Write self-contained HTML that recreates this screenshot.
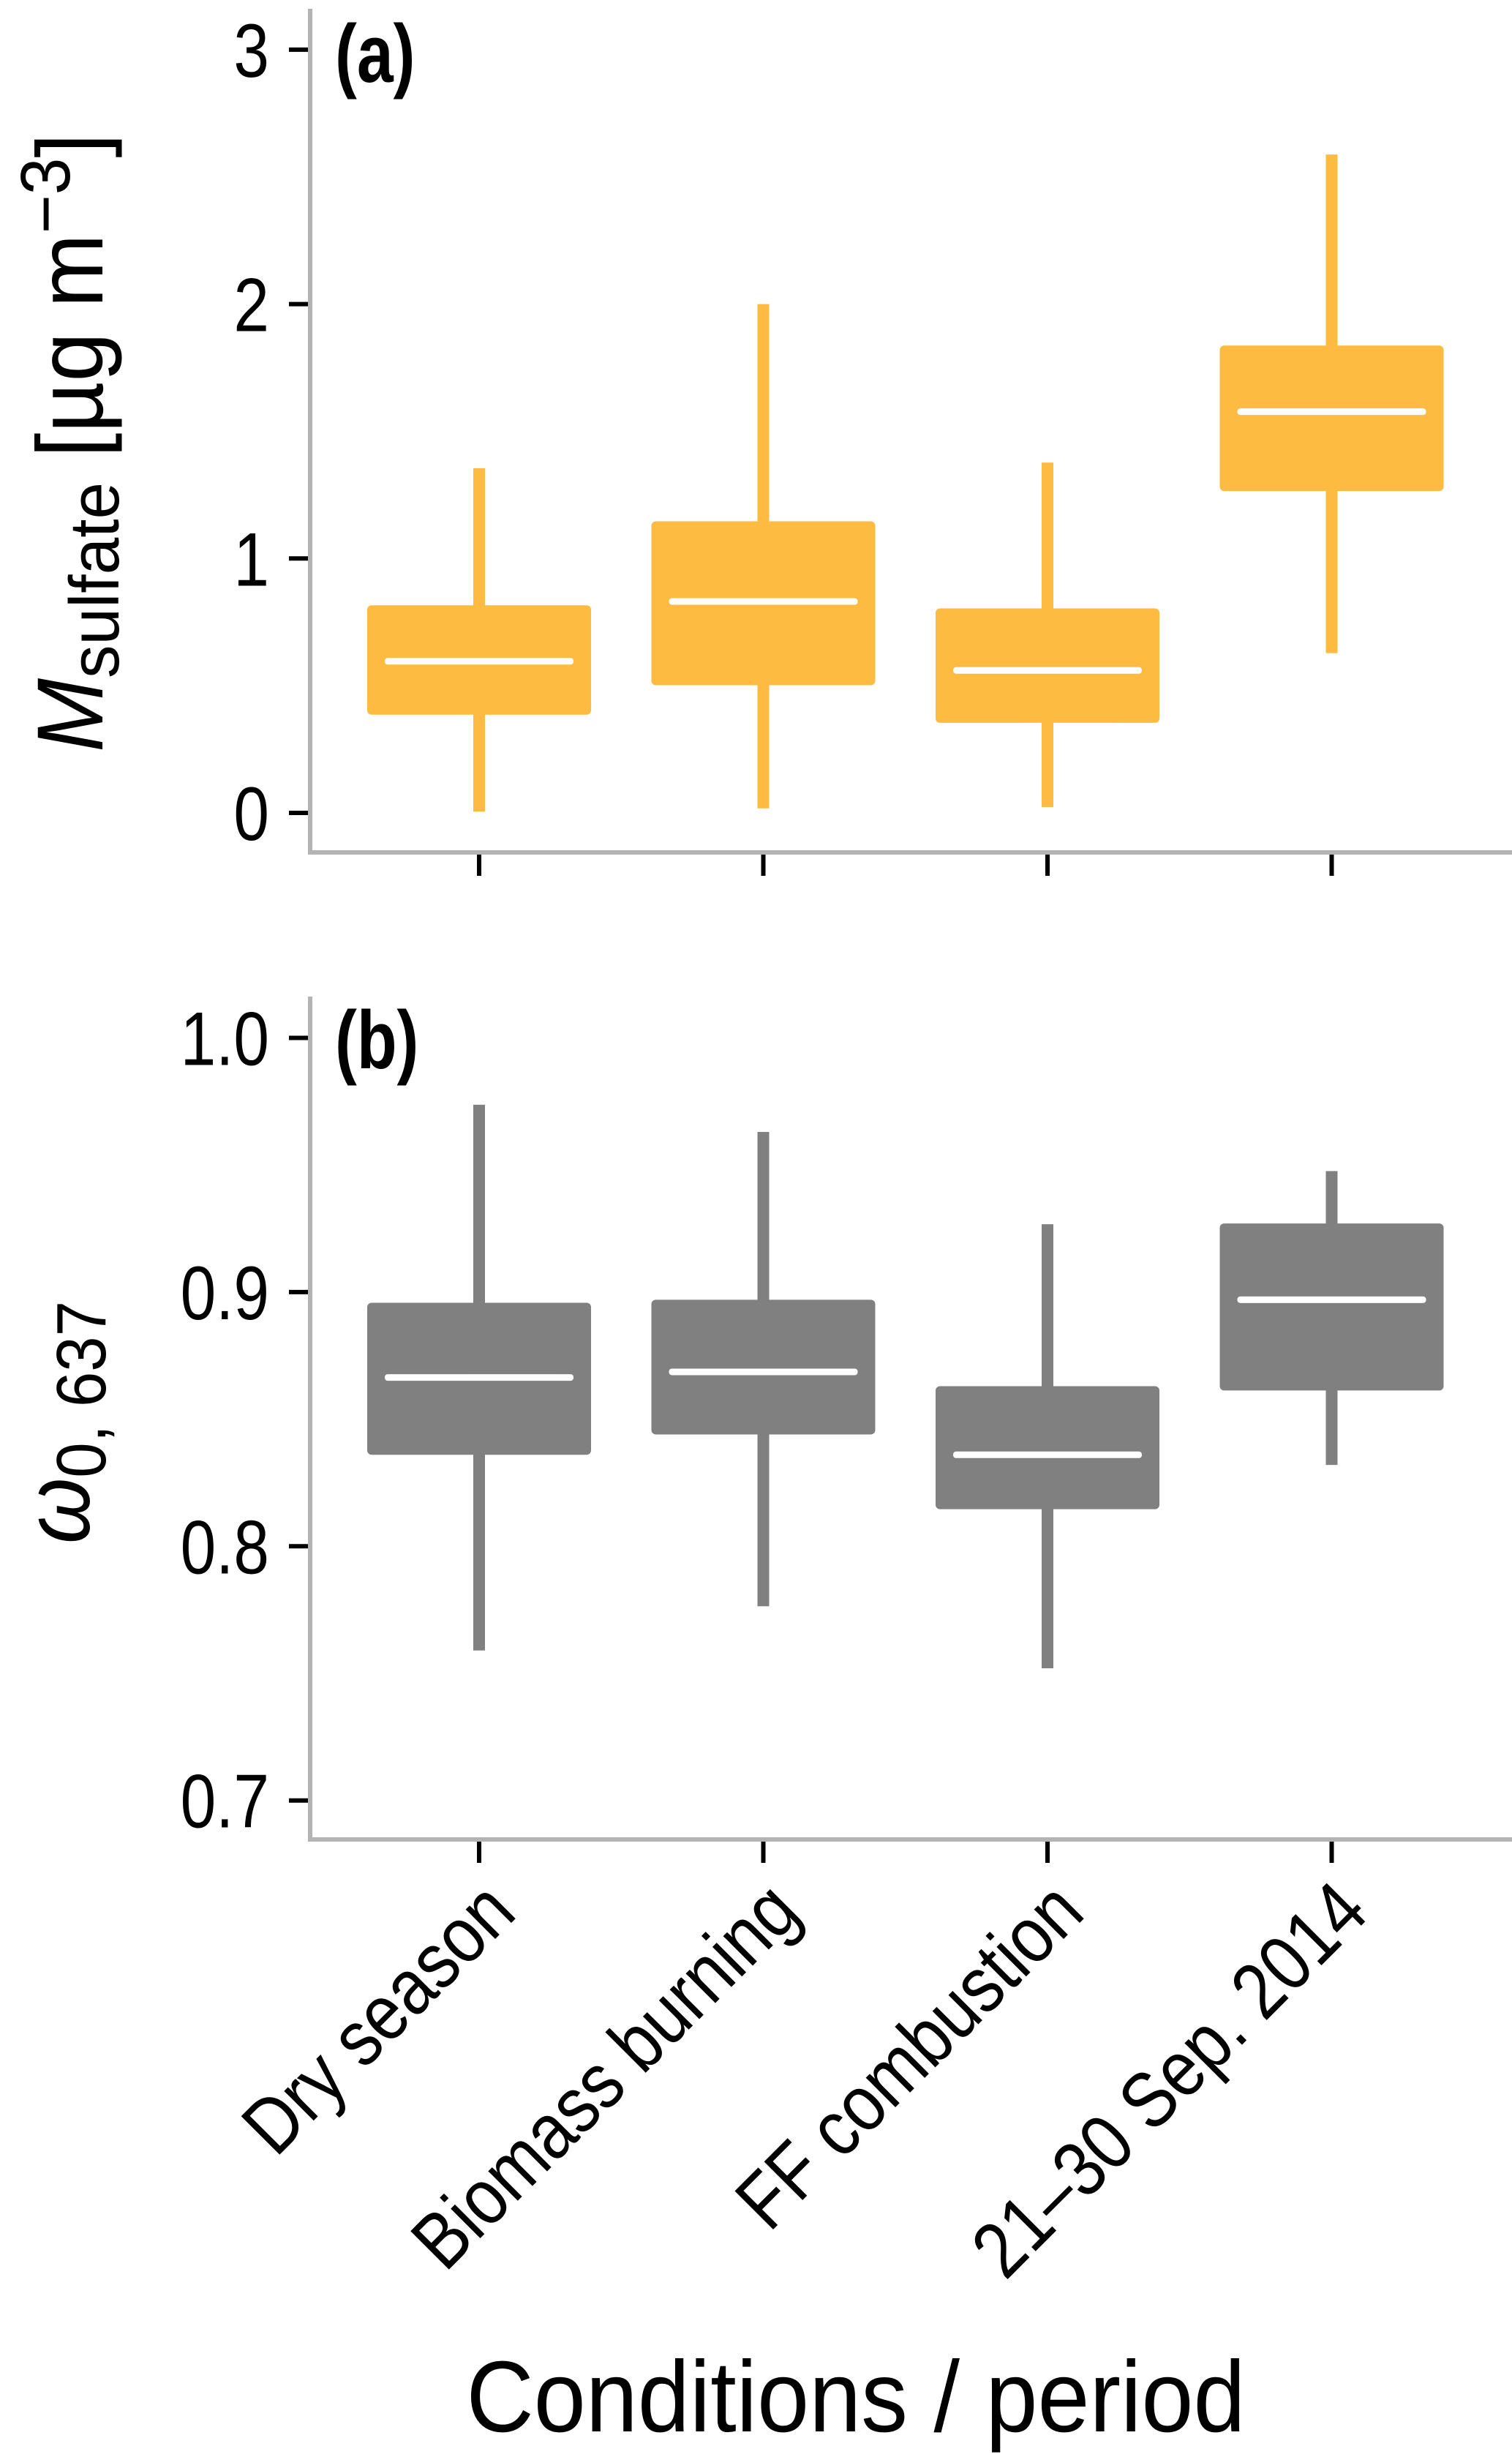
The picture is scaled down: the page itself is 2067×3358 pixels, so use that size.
<!DOCTYPE html>
<html><head><meta charset="utf-8"><style>
html,body{margin:0;padding:0;background:#fff;}
svg{display:block;}
text{font-family:"Liberation Sans Narrow","Liberation Sans",sans-serif;fill:#000;}
</style></head><body>
<svg id="chart" width="2067" height="3358" viewBox="0 0 2067 3358" xmlns="http://www.w3.org/2000/svg">
<g id="panelA"></g>
<g id="panelB"></g>
<text x="1170" y="3323" font-size="138" text-anchor="middle" textLength="1065" lengthAdjust="spacingAndGlyphs">Conditions / period</text>
<text transform="translate(140,605) rotate(-90)" text-anchor="middle" font-size="128" textLength="846" lengthAdjust="spacingAndGlyphs"><tspan font-style="italic">M</tspan><tspan font-size="96" dy="22">sulfate</tspan><tspan dy="-22"> [µg m</tspan><tspan font-size="96" dy="-45">−3</tspan><tspan dy="45">]</tspan></text>
<text transform="translate(122,1944) rotate(-90)" text-anchor="middle" font-size="128" textLength="332" lengthAdjust="spacingAndGlyphs"><tspan font-style="italic">ω</tspan><tspan font-size="96" dy="22">0, 637</tspan></text>
</svg>
<script>
const categories = ["Dry season","Biomass burning","FF combustion","21–30 Sep. 2014"];
const sulfateLow = [0.005,0.018,0.023,0.628];
const sulfateQ1 = [0.386,0.502,0.354,1.265];
const sulfateMed = [0.596,0.831,0.560,1.577];
const sulfateQ3 = [0.816,1.146,0.804,1.837];
const sulfateHigh = [1.355,2.0,1.377,2.588];
const sulfateTicks = [0,1,2,3];
const sulfateTickLabels = ["0","1","2","3"];
const ssaLow = [0.759,0.7764,0.752,0.832];
const ssaQ1 = [0.836,0.844,0.8146,0.8613];
const ssaMed = [0.8664,0.8686,0.836,0.897];
const ssaQ3 = [0.8958,0.897,0.863,0.927];
const ssaHigh = [0.9737,0.963,0.9267,0.9476];
const ssaTicks = [0.7,0.8,0.9,1.0];
const ssaTickLabels = ["0.7","0.8","0.9","1.0"];

const NS="http://www.w3.org/2000/svg";
function mk(tag, attrs, parent){const e=document.createElementNS(NS,tag);for(const k in attrs)e.setAttribute(k,attrs[k]);parent.appendChild(e);return e;}
const xScale = i => 655 + i*388.5;

function panel(g, yS, axTop, axBot, ticks, tickLabels, low,q1,med,q3,high, color, label, labelY){
  const ax=mk('line',{x1:424,y1:axTop,x2:424,y2:axBot,stroke:'#b3b3b3','stroke-width':6},g);
  
  
  const bx=mk('line',{x1:421,y1:axBot,x2:2067,y2:axBot,stroke:'#b3b3b3','stroke-width':6},g);
  
  
  ticks.forEach((t,i)=>{
    const y=yS(t);
    const tk=mk('line',{x1:395,y1:y,x2:421,y2:y,stroke:'#000','stroke-width':6},g);
    
    
    const tl=mk('text',{transform:`translate(368,${y+37}) scale(0.84,1)`,'text-anchor':'end','font-size':104},g);
    tl.textContent=tickLabels[i];
    
    
  });
  categories.forEach((c,i)=>{
    const x=xScale(i);
    const xt=mk('line',{x1:x,y1:axBot+3,x2:x,y2:axBot+32,stroke:'#000','stroke-width':6},g);
    
    
    const w=mk('rect',{x:x-8,y:yS(high[i]),width:16,height:yS(low[i])-yS(high[i]),fill:color},g);
    
    
    const b=mk('rect',{x:x-153,y:yS(q3[i]),width:306,height:yS(q1[i])-yS(q3[i]),fill:color,rx:6},g);
    
    
    const m=mk('rect',{x:x-129,y:yS(med[i])-4.5,width:258,height:9,fill:'#fff',rx:4},g);
    
    
  });
  const pl=mk('text',{transform:`translate(458,${labelY}) scale(0.8,1)`,'font-size':112,'font-weight':'bold'},g);
  pl.textContent=label;
  
  
}
const yA = v => 1111 - v*347.7;
const yB = v => 1418.5 + (1.0 - v)*3474;
panel(document.getElementById('panelA'), yA, 12, 1165, sulfateTicks, sulfateTickLabels, sulfateLow,sulfateQ1,sulfateMed,sulfateQ3,sulfateHigh,'#fdbb42','(a)',112);
panel(document.getElementById('panelB'), yB, 1362, 2514, ssaTicks, ssaTickLabels, ssaLow,ssaQ1,ssaMed,ssaQ3,ssaHigh,'#808080','(b)',1460);
const svg=document.getElementById('chart');
categories.forEach((c,i)=>{
  const x=xScale(i);
  const t=mk('text',{transform:`translate(${x+54},2618) rotate(-45) scale(0.86,1)`,'text-anchor':'end','font-size':108},svg);
  t.textContent=c;
  
  
});
</script>
</body></html>
